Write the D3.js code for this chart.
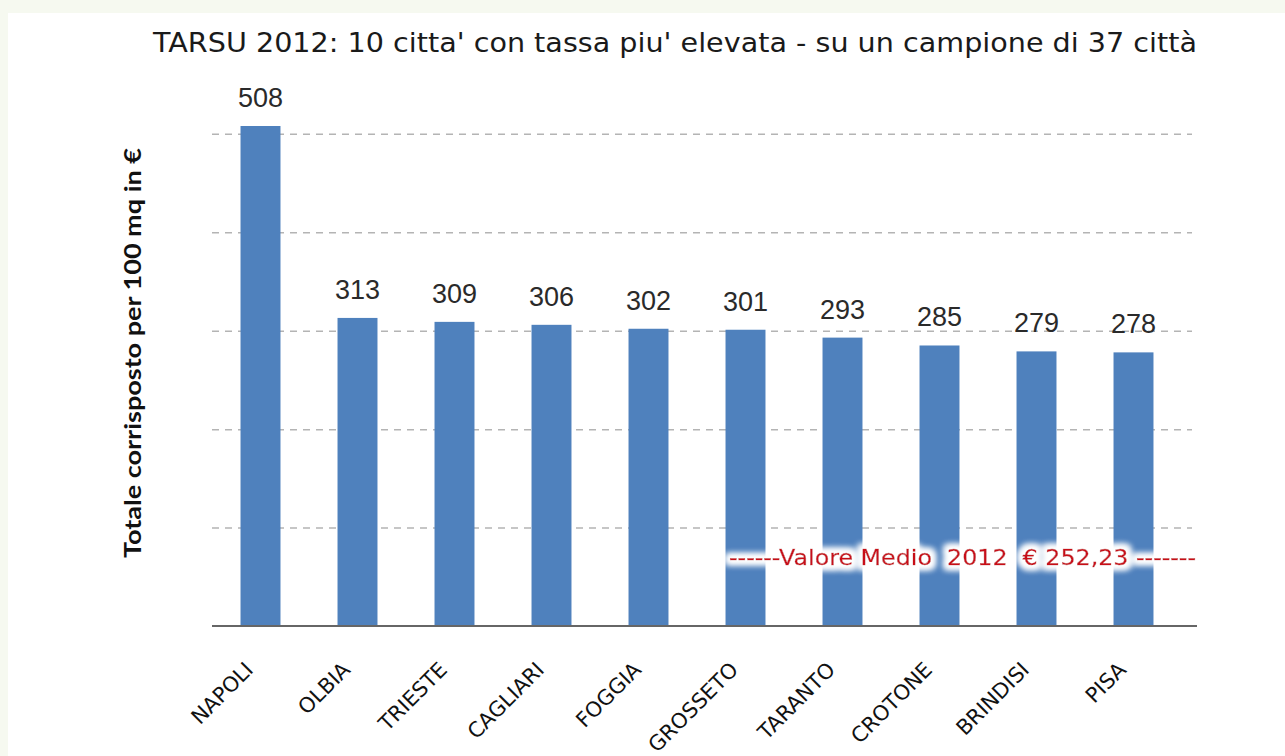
<!DOCTYPE html>
<html>
<head>
<meta charset="utf-8">
<script src="https://cdn.jsdelivr.net/npm/d3@7"></script>
<style>
  html, body { margin: 0; padding: 0; background: #f6f9f0; }
  svg { display: block; }
</style>
</head>
<body>
<div id="chart"></div>
<script>
// TARSU 2012 - le 10 città con tassa più elevata

const cities = ['NAPOLI', 'OLBIA', 'TRIESTE', 'CAGLIARI', 'FOGGIA', 'GROSSETO', 'TARANTO', 'CROTONE', 'BRINDISI', 'PISA'];
const values = [508, 313, 309, 306, 302, 301, 293, 285, 279, 278];
const gridValues = [100, 200, 300, 400, 500];
const titleText = "TARSU 2012: 10 citta' con tassa piu' elevata - su un campione di 37 città";
const yLabel = 'Totale corrisposto per 100 mq in €';
const meanText = '------Valore Medio  2012  € 252,23 -------';

const W = 1285, H = 756;
const left = 212, right = 1182, base = 626;

const svg = d3.select('#chart').append('svg')
    .attr('width', W)
    .attr('height', H);

// glow bianco per la nota in rosso
const defs = svg.append('defs');
const glow = defs.append('filter').attr('id', 'glow')
    .attr('x', '-10%').attr('y', '-60%').attr('width', '120%').attr('height', '220%');
glow.append('feMorphology').attr('in', 'SourceAlpha').attr('operator', 'dilate').attr('radius', 4).attr('result', 'd');
glow.append('feGaussianBlur').attr('in', 'd').attr('stdDeviation', 3).attr('result', 'b');
glow.append('feFlood').attr('flood-color', '#ffffff').attr('result', 'w');
glow.append('feComposite').attr('in', 'w').attr('in2', 'b').attr('operator', 'in').attr('result', 'halo');
const merge = glow.append('feMerge');
merge.append('feMergeNode').attr('in', 'halo');
merge.append('feMergeNode').attr('in', 'halo');
merge.append('feMergeNode').attr('in', 'SourceGraphic');

// sfondo
svg.append('rect').attr('width', W).attr('height', H).attr('fill', '#f6f9f0');
svg.append('rect').attr('x', 8).attr('y', 13).attr('width', W - 8).attr('height', H - 13).attr('fill', '#ffffff');

const x = d3.scaleBand()
    .domain(cities)
    .range([left, right])
    .paddingInner(0.588)
    .paddingOuter(0.294);

const y = d3.scaleLinear()
    .domain([0, 508])
    .range([base, 126]);

// griglia tratteggiata
const grid = svg.append('g')
    .attr('transform', `translate(${left},0)`)
    .call(d3.axisLeft(y).tickValues(gridValues).tickSize(-(1192 - left)).tickFormat(''));
grid.select('.domain').remove();
grid.selectAll('.tick line')
    .attr('stroke', '#b4b4b4')
    .attr('stroke-width', 1.5)
    .attr('stroke-dasharray', '7,6');

// barre
svg.append('g').selectAll('rect')
    .data(values)
    .enter()
    .append('rect')
    .attr('x', (d, i) => x(cities[i]))
    .attr('y', d => y(d))
    .attr('width', x.bandwidth())
    .attr('height', d => y(0) - y(d))
    .attr('fill', '#4f81bd');

// etichette valori
svg.append('g').selectAll('text')
    .data(values)
    .enter()
    .append('text')
    .attr('x', (d, i) => x(cities[i]) + x.bandwidth() / 2)
    .attr('y', d => y(d) - 19)
    .attr('text-anchor', 'middle')
    .style('font-family', '"Liberation Sans", Arial, sans-serif')
    .style('font-size', '27px')
    .style('fill', '#2a2a2a')
    .text(d => d);

// asse x
const xAxis = svg.append('g')
    .attr('transform', `translate(0,${base})`)
    .call(d3.axisBottom(x).tickSize(0).tickPadding(0));
xAxis.select('.domain')
    .attr('d', `M${left},0H1197`)
    .attr('stroke', '#666')
    .attr('stroke-width', 2);
xAxis.selectAll('.tick text')
    .attr('x', -6)
    .attr('y', 45)
    .attr('dy', 0)
    .attr('text-anchor', 'end')
    .attr('transform', 'rotate(-45,-6,45)')
    .style('font-family', '"DejaVu Sans", Verdana, sans-serif')
    .style('font-size', '21px')
    .style('fill', '#111');

// titolo
svg.append('text')
    .attr('x', 153)
    .attr('y', 52)
    .attr('textLength', 1044)
    .attr('lengthAdjust', 'spacingAndGlyphs')
    .style('font-family', '"DejaVu Sans", Verdana, sans-serif')
    .style('font-size', '27px')
    .style('fill', '#1a1a1a')
    .text(titleText);

// titolo asse y
svg.append('text')
    .attr('transform', 'translate(141,353) rotate(-90)')
    .attr('text-anchor', 'middle')
    .attr('textLength', 410)
    .attr('lengthAdjust', 'spacingAndGlyphs')
    .style('font-family', 'Lato, "Open Sans", sans-serif')
    .style('font-weight', 'bold')
    .style('font-size', '22px')
    .style('fill', '#111')
    .text(yLabel);

// valore medio
svg.append('text')
    .attr('x', 729)
    .attr('y', 565)
    .attr('textLength', 467)
    .attr('lengthAdjust', 'spacingAndGlyphs')
    .attr('filter', 'url(#glow)')
    .style('white-space', 'pre')
    .style('font-family', '"DejaVu Sans", Verdana, sans-serif')
    .style('font-size', '22px')
    .style('fill', '#c8101a')
    .style('stroke', '#c8101a')
    .style('stroke-width', 0.4)
    .text(meanText);
</script>
</body>
</html>
